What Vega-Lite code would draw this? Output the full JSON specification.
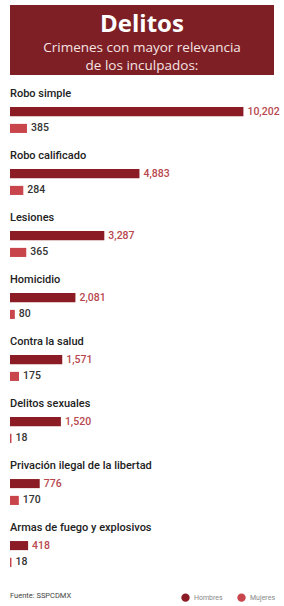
{
  "$schema": "https://vega.github.io/schema/vega-lite/v6.json",
  "padding": {"left": 10, "top": 5, "right": 10, "bottom": 0},
  "spacing": 13,
  "background": "white",
  "config": {"view": {"stroke": null}, "font": "Roboto"},
  "vconcat": [
    {
      "width": 264,
      "height": 70,
      "view": {"fill": "#7d1f25", "stroke": null},
      "data": {"values": [
        {"k": "titulo", "t": "Delitos"},
        {"k": "sub1", "t": "Crimenes con mayor relevancia"},
        {"k": "sub2", "t": "de los inculpados:"}
      ]},
      "encoding": {
        "y": {"field": "k", "type": "ordinal", "scale": {"type": "point", "domain": ["titulo", "sub1", "sub2"], "padding": 1.12}, "axis": null},
        "text": {"field": "t"}
      },
      "layer": [
        {
          "transform": [{"filter": "datum.k === 'titulo'"}],
          "mark": {"type": "text", "font": "Open Sans", "fontSize": 24, "fontWeight": "bold", "color": "white", "baseline": "middle", "dy": 2}
        },
        {
          "transform": [{"filter": "datum.k !== 'titulo'"}],
          "mark": {"type": "text", "font": "Open Sans", "fontSize": 13.5, "color": "#f6e3e3", "baseline": "middle", "dy": 8, "letterSpacing": -0.4}
        }
      ]
    },
    {
      "title": {"text": "Fuente: SSPCDMX", "orient": "bottom", "anchor": "start", "fontSize": 7.5, "fontWeight": "normal", "color": "#444", "offset": 21},
      "data": {"values": [
        {"delito": "Robo simple", "sexo": "Hombres", "valor": 10202},
        {"delito": "Robo simple", "sexo": "Mujeres", "valor": 385},
        {"delito": "Robo calificado", "sexo": "Hombres", "valor": 4883},
        {"delito": "Robo calificado", "sexo": "Mujeres", "valor": 284},
        {"delito": "Lesiones", "sexo": "Hombres", "valor": 3287},
        {"delito": "Lesiones", "sexo": "Mujeres", "valor": 365},
        {"delito": "Homicidio", "sexo": "Hombres", "valor": 2081},
        {"delito": "Homicidio", "sexo": "Mujeres", "valor": 80},
        {"delito": "Contra la salud", "sexo": "Hombres", "valor": 1571},
        {"delito": "Contra la salud", "sexo": "Mujeres", "valor": 175},
        {"delito": "Delitos sexuales", "sexo": "Hombres", "valor": 1520},
        {"delito": "Delitos sexuales", "sexo": "Mujeres", "valor": 18},
        {"delito": "Privación ilegal de la libertad", "sexo": "Hombres", "valor": 776},
        {"delito": "Privación ilegal de la libertad", "sexo": "Mujeres", "valor": 170},
        {"delito": "Armas de fuego y explosivos", "sexo": "Hombres", "valor": 418},
        {"delito": "Armas de fuego y explosivos", "sexo": "Mujeres", "valor": 18}
      ]},
      "facet": {
        "field": "delito",
        "type": "nominal",
        "sort": ["Robo simple", "Robo calificado", "Lesiones", "Homicidio", "Contra la salud", "Delitos sexuales", "Privación ilegal de la libertad", "Armas de fuego y explosivos"],
        "header": {"title": null, "labelOrient": "top", "labelAnchor": "start", "labelAlign": "left", "labelFontSize": 11, "labelFontWeight": 500, "labelColor": "#222", "labelPadding": 4, "labelFont": "Roboto"}
      },
      "columns": 1,
      "spacing": 13,
      "spec": {
        "width": 264,
        "height": 34,
        "encoding": {
          "y": {"field": "sexo", "type": "nominal", "scale": {"domain": ["Hombres", "Mujeres"], "paddingInner": 0.46, "paddingOuter": 0.24}, "axis": null}
        },
        "layer": [
          {
            "mark": {"type": "bar"},
            "encoding": {
              "x": {"field": "valor", "type": "quantitative", "scale": {"type": "pow", "exponent": 0.8, "domain": [0, 11900], "nice": false}, "axis": null},
              "color": {"field": "sexo", "type": "nominal", "scale": {"domain": ["Hombres", "Mujeres"], "range": ["#8b1c25", "#c8454c"]},
                "legend": {"title": null, "orient": "none", "legendX": 171, "legendY": 588, "direction": "horizontal", "symbolType": "circle", "symbolSize": 70, "labelFontSize": 7, "labelColor": "#888", "columnPadding": 14, "symbolStrokeWidth": 0}}
            }
          },
          {
            "mark": {"type": "text", "align": "left", "baseline": "middle", "dx": 4, "fontSize": 10.5, "fontWeight": 500},
            "encoding": {
              "x": {"field": "valor", "type": "quantitative"},
              "text": {"field": "valor", "type": "quantitative", "format": ","},
              "color": {"condition": {"test": "datum.sexo === 'Hombres'", "value": "#b8474e"}, "value": "#333333"}
            }
          }
        ]
      }
    }
  ]
}
